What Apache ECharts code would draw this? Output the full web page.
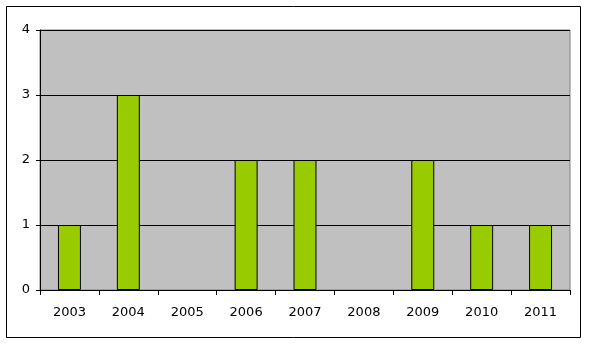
<!DOCTYPE html>
<html><head><meta charset="utf-8">
<script src="https://cdn.jsdelivr.net/npm/echarts@6/dist/echarts.min.js"></script>
<style>html,body{margin:0;padding:0;background:#fff}#c{width:589px;height:345px}</style>
</head><body><div id="c"></div>
<script>
var categories = ['2003','2004','2005','2006','2007','2008','2009','2010','2011'];
var values = [1,3,0,2,2,0,2,1,1];
var chart = echarts.init(document.getElementById('c'), null, {renderer:'canvas'});
chart.setOption({
  animation:false,
  graphic:[{type:'rect',shape:{x:6.5,y:6.5,width:574,height:331},style:{fill:'none',stroke:'#000',lineWidth:1},z:-1}],
  grid:{left:40,top:30,right:19,bottom:55,show:true,backgroundColor:'#c0c0c0',borderColor:'#808080',borderWidth:1},
  xAxis:{type:'category',data:categories,
    axisLine:{lineStyle:{color:'#000',width:1}},
    axisTick:{show:true,alignWithLabel:false,length:5,lineStyle:{color:'#000'}},
    axisLabel:{color:'#000',fontFamily:'DejaVu Sans',fontSize:13,margin:16}},
  yAxis:{type:'value',min:0,max:4,interval:1,
    axisLine:{show:true,lineStyle:{color:'#000'}},
    axisTick:{show:true,length:4,lineStyle:{color:'#000'}},
    splitLine:{lineStyle:{color:'#000',width:1}},
    axisLabel:{color:'#000',fontFamily:'DejaVu Sans',fontSize:13,margin:10}},
  series:[{type:'bar',barWidth:'39%',
    data:values.map(function(v){return v===0?{value:v,itemStyle:{borderWidth:0,opacity:0}}:v;}),
    itemStyle:{color:'#99cc00',borderColor:'#000',borderWidth:1}}]
});
</script></body></html>
